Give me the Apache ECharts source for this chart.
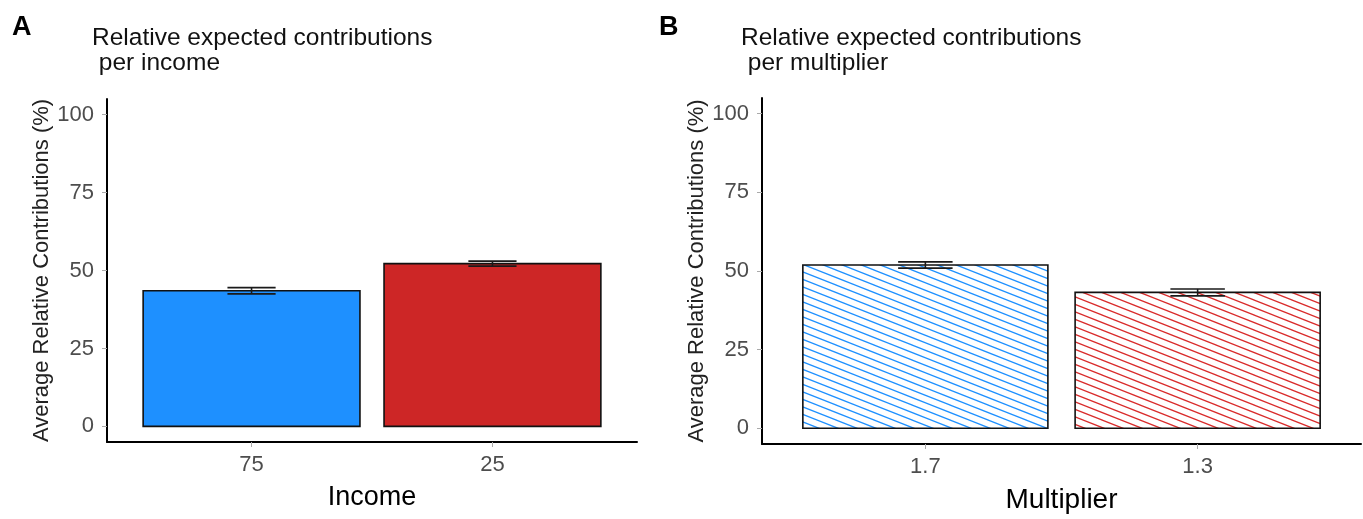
<!DOCTYPE html>
<html>
<head>
<meta charset="utf-8">
<script src="https://cdn.jsdelivr.net/npm/echarts@6/dist/echarts.min.js"></script>
<style>
html,body{margin:0;padding:0;background:#fff;}
#chart{width:1363px;height:519px;}
</style>
</head>
<body>
<div id="chart"></div>
<script>
// ---- data ----
const incomeCats = ['75', '25'];
const incomeMeans = [43.5, 52.2];
const incomeSE = [1.0, 0.8];
const multCats = ['1.7', '1.3'];
const multMeans = [51.9, 43.2];
const multSE = [1.0, 1.1];
const yTicks = [0, 25, 50, 75, 100];
const xTicks = [1, 2];

// ---- styles ----
const FONT = 'Liberation Sans, Arial, sans-serif';
const BLUE = '#1E90FF';
const RED = '#CD2626';

function hatch(color) {
  const W = 38, H = 15;
  const c = document.createElement('canvas');
  c.width = W; c.height = H;
  const g = c.getContext('2d');
  g.strokeStyle = color;
  g.lineWidth = 1.3;
  for (let k = -2; k <= 2; k++) {
    const y0 = k * 7.5;
    g.beginPath();
    g.moveTo(-4, y0 - 4 * 7.5 / 19);
    g.lineTo(W + 4, y0 + (W + 4) * 7.5 / 19);
    g.stroke();
  }
  return { image: c, repeat: 'repeat' };
}

const fillsA = [BLUE, RED];
const fillsB = [hatch(BLUE), hatch('#D92B2B')];

function barSeries(idx, cats, means, fills) {
  return {
    type: 'custom',
    xAxisIndex: idx, yAxisIndex: idx,
    data: cats.map((c, i) => [i + 1, means[i]]),
    renderItem: function (params, api) {
      const x = api.value(0), y = api.value(1);
      const p1 = api.coord([x - 0.45, y]);
      const p2 = api.coord([x + 0.45, 0]);
      return {
        type: 'rect',
        shape: { x: p1[0], y: p1[1], width: p2[0] - p1[0], height: p2[1] - p1[1] },
        style: { fill: fills[params.dataIndex], stroke: '#111', lineWidth: 1.6 }
      };
    },
    z: 2
  };
}

function errSeries(idx, cats, means, se) {
  return {
    type: 'custom',
    xAxisIndex: idx, yAxisIndex: idx,
    data: cats.map((c, i) => [i + 1, means[i] - se[i], means[i] + se[i]]),
    renderItem: function (params, api) {
      const x = api.value(0), lo = api.value(1), hi = api.value(2);
      const a = api.coord([x, lo]), b = api.coord([x, hi]);
      const l1 = api.coord([x - 0.1, lo]), r1 = api.coord([x + 0.1, lo]);
      const l2 = api.coord([x - 0.1, hi]), r2 = api.coord([x + 0.1, hi]);
      const st = { stroke: '#1a1a1a', lineWidth: 1.6 };
      return {
        type: 'group',
        children: [
          { type: 'line', shape: { x1: a[0], y1: a[1], x2: b[0], y2: b[1] }, style: st },
          { type: 'line', shape: { x1: l1[0], y1: l1[1], x2: r1[0], y2: r1[1] }, style: st },
          { type: 'line', shape: { x1: l2[0], y1: l2[1], x2: r2[0], y2: r2[1] }, style: st }
        ]
      };
    },
    z: 3
  };
}

function xAx(idx, cats, name, nameSize) {
  return {
    type: 'value', gridIndex: idx, min: 0.4, max: 2.6,
    name: name, nameLocation: 'middle', nameGap: 42,
    nameTextStyle: { fontFamily: FONT, fontSize: nameSize, color: '#000' },
    axisLine: { show: true, onZero: false, lineStyle: { color: '#000', width: 2 } },
    axisTick: { show: true, customValues: xTicks, length: 5, lineStyle: { color: '#aaa', width: 1 } },
    axisLabel: {
      customValues: xTicks, margin: 12,
      formatter: v => cats[Math.round(v) - 1] || '',
      fontFamily: FONT, fontSize: 22, color: '#4D4D4D'
    },
    splitLine: { show: false }
  };
}

function yAx(idx) {
  return {
    type: 'value', gridIndex: idx, min: -5, max: 105,
    name: 'Average Relative Contributions (%)', nameLocation: 'middle', nameGap: 52,
    nameTextStyle: { fontFamily: FONT, fontSize: 22, color: '#222' },
    axisLine: { show: true, onZero: false, lineStyle: { color: '#000', width: 2 } },
    axisTick: { show: true, customValues: yTicks, length: 5, lineStyle: { color: '#aaa', width: 1 } },
    axisLabel: { customValues: yTicks, margin: 13, fontFamily: FONT, fontSize: 22, color: '#4D4D4D' },
    splitLine: { show: false }
  };
}

const chart = echarts.init(document.getElementById('chart'), null, { renderer: 'canvas' });
chart.setOption({
  backgroundColor: '#fff',
  animation: false,
  title: [
    { text: 'A', left: 12, top: 14, padding: 0, textStyle: { fontFamily: FONT, fontSize: 27, fontWeight: 'bold', color: '#000' } },
    { text: 'Relative expected contributions\n per income', left: 92, top: 26, padding: 0,
      textStyle: { fontFamily: FONT, fontSize: 24.5, fontWeight: 'normal', color: '#111', lineHeight: 25 } },
    { text: 'B', left: 659, top: 14, padding: 0, textStyle: { fontFamily: FONT, fontSize: 27, fontWeight: 'bold', color: '#000' } },
    { text: 'Relative expected contributions\n per multiplier', left: 741, top: 26, padding: 0,
      textStyle: { fontFamily: FONT, fontSize: 24.5, fontWeight: 'normal', color: '#111', lineHeight: 25 } }
  ],
  grid: [
    { left: 107, top: 99, width: 530, height: 343, containLabel: false },
    { left: 762, top: 98, width: 599, height: 348, containLabel: false }
  ],
  xAxis: [xAx(0, incomeCats, 'Income', 27), xAx(1, multCats, 'Multiplier', 28)],
  yAxis: [yAx(0), yAx(1)],
  series: [
    barSeries(0, incomeCats, incomeMeans, fillsA),
    errSeries(0, incomeCats, incomeMeans, incomeSE),
    barSeries(1, multCats, multMeans, fillsB),
    errSeries(1, multCats, multMeans, multSE)
  ]
});
</script>
</body>
</html>
